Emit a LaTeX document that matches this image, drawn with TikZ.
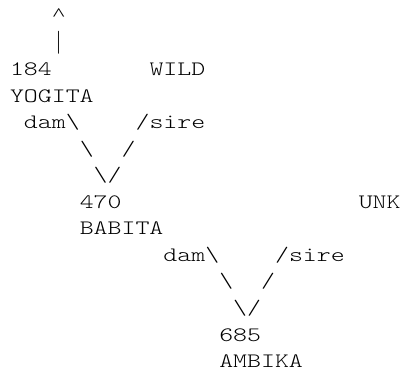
\documentclass[tikz,border=0pt]{standalone}
\usepackage{fontspec}
\newfontfamily\courlike{Latin Modern Mono Light}[FakeStretch=1.296]
\newfontfamily\caretfont{Liberation Serif}[FakeStretch=1.4]
\tikzset{
  tt/.style={anchor=base west, inner sep=0pt, outer sep=0pt, text=black, font=\courlike\fontsize{20.5pt}{26.55pt}\selectfont},
  ttbar/.style={anchor=base, inner sep=0pt, outer sep=0pt, text=black, font=\rmfamily\fontsize{23pt}{26.55pt}\selectfont},
  ttcaret/.style={anchor=base, inner sep=0pt, outer sep=0pt, text=black, font=\caretfont\fontsize{18pt}{20pt}\selectfont}
}
\newcommand\tk[4]{\node[tt] (#1) at ({10pt+#2*13.95pt},{-22.4pt-#3*26.55pt}) {#4};}
\begin{document}
\begin{tikzpicture}
\useasboundingbox[fill=white] (0,0) rectangle (403pt,-371pt);
\node[ttcaret] (caret) at (58.8pt,-20.8pt) {\textasciicircum};
\node[ttbar] (bar) at (58.6pt,{-22.4pt-1*26.55pt}) {|};
\tk{n184}{0}{2}{184}
\tk{wild}{10}{2}{WILD}
\tk{yogita}{0}{3}{YOGITA}
\tk{damA}{1}{4}{dam\textbackslash}
\tk{sireA}{9}{4}{/sire}
\tk{lAa}{5}{5}{\textbackslash}
\tk{lAb}{8}{5}{/}
\tk{lAc}{6}{6}{\textbackslash/}
\tk{n470}{5}{7}{470}
\tk{unk}{25}{7}{UNK}
\tk{babita}{5}{8}{BABITA}
\tk{damB}{11}{9}{dam\textbackslash}
\tk{sireB}{19}{9}{/sire}
\tk{lBa}{15}{10}{\textbackslash}
\tk{lBb}{18}{10}{/}
\tk{lBc}{16}{11}{\textbackslash/}
\tk{n685}{15}{12}{685}
\tk{ambika}{15}{13}{AMBIKA}
\end{tikzpicture}
\end{document}
